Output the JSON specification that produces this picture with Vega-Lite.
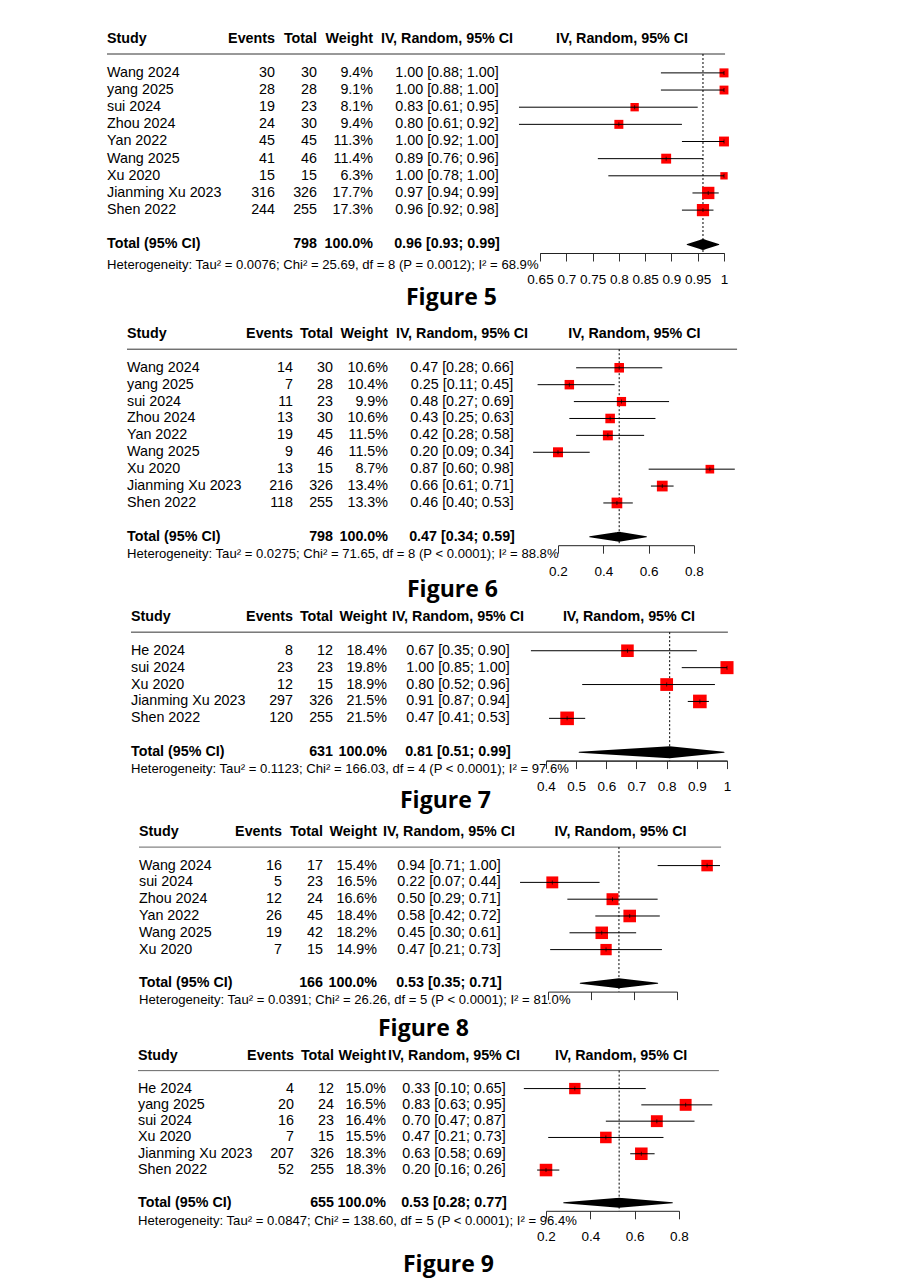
{
"$schema": "https://vega.github.io/schema/vega-lite/v6.json",
"background": "white",
"padding": {"left": 100, "top": 30, "right": 0, "bottom": 0},
"spacing": 0,
"datasets": {"t": [
{"fig":5,"row":0,"kind":"h","study":"Study","ev":"Events","tot":"Total","wt":"Weight","ci":"IV, Random, 95% CI"},
{"fig":5,"row":2,"kind":"s","study":"Wang 2024","ev":"30","tot":"30","wt":"9.4%","ci":"1.00 [0.88; 1.00]","est":1.0,"lo":0.88,"hi":1.0,"w":9.4},
{"fig":5,"row":3,"kind":"s","study":"yang 2025","ev":"28","tot":"28","wt":"9.1%","ci":"1.00 [0.88; 1.00]","est":1.0,"lo":0.88,"hi":1.0,"w":9.1},
{"fig":5,"row":4,"kind":"s","study":"sui 2024","ev":"19","tot":"23","wt":"8.1%","ci":"0.83 [0.61; 0.95]","est":0.83,"lo":0.61,"hi":0.95,"w":8.1},
{"fig":5,"row":5,"kind":"s","study":"Zhou 2024","ev":"24","tot":"30","wt":"9.4%","ci":"0.80 [0.61; 0.92]","est":0.8,"lo":0.61,"hi":0.92,"w":9.4},
{"fig":5,"row":6,"kind":"s","study":"Yan 2022","ev":"45","tot":"45","wt":"11.3%","ci":"1.00 [0.92; 1.00]","est":1.0,"lo":0.92,"hi":1.0,"w":11.3},
{"fig":5,"row":7,"kind":"s","study":"Wang 2025","ev":"41","tot":"46","wt":"11.4%","ci":"0.89 [0.76; 0.96]","est":0.89,"lo":0.76,"hi":0.96,"w":11.4},
{"fig":5,"row":8,"kind":"s","study":"Xu 2020","ev":"15","tot":"15","wt":"6.3%","ci":"1.00 [0.78; 1.00]","est":1.0,"lo":0.78,"hi":1.0,"w":6.3},
{"fig":5,"row":9,"kind":"s","study":"Jianming Xu 2023","ev":"316","tot":"326","wt":"17.7%","ci":"0.97 [0.94; 0.99]","est":0.97,"lo":0.94,"hi":0.99,"w":17.7},
{"fig":5,"row":10,"kind":"s","study":"Shen 2022","ev":"244","tot":"255","wt":"17.3%","ci":"0.96 [0.92; 0.98]","est":0.96,"lo":0.92,"hi":0.98,"w":17.3},
{"fig":5,"row":12,"kind":"t","study":"Total (95% CI)","ev":"","tot":"798","wt":"100.0%","ci":"0.96 [0.93; 0.99]","est":0.96,"lo":0.93,"hi":0.99},
{"fig":5,"row":13,"kind":"x","study":"Heterogeneity: Tau² = 0.0076; Chi² = 25.69, df = 8 (P = 0.0012); I² = 68.9%"},
{"fig":6,"row":0,"kind":"h","study":"Study","ev":"Events","tot":"Total","wt":"Weight","ci":"IV, Random, 95% CI"},
{"fig":6,"row":2,"kind":"s","study":"Wang 2024","ev":"14","tot":"30","wt":"10.6%","ci":"0.47 [0.28; 0.66]","est":0.47,"lo":0.28,"hi":0.66,"w":10.6},
{"fig":6,"row":3,"kind":"s","study":"yang 2025","ev":"7","tot":"28","wt":"10.4%","ci":"0.25 [0.11; 0.45]","est":0.25,"lo":0.11,"hi":0.45,"w":10.4},
{"fig":6,"row":4,"kind":"s","study":"sui 2024","ev":"11","tot":"23","wt":"9.9%","ci":"0.48 [0.27; 0.69]","est":0.48,"lo":0.27,"hi":0.69,"w":9.9},
{"fig":6,"row":5,"kind":"s","study":"Zhou 2024","ev":"13","tot":"30","wt":"10.6%","ci":"0.43 [0.25; 0.63]","est":0.43,"lo":0.25,"hi":0.63,"w":10.6},
{"fig":6,"row":6,"kind":"s","study":"Yan 2022","ev":"19","tot":"45","wt":"11.5%","ci":"0.42 [0.28; 0.58]","est":0.42,"lo":0.28,"hi":0.58,"w":11.5},
{"fig":6,"row":7,"kind":"s","study":"Wang 2025","ev":"9","tot":"46","wt":"11.5%","ci":"0.20 [0.09; 0.34]","est":0.2,"lo":0.09,"hi":0.34,"w":11.5},
{"fig":6,"row":8,"kind":"s","study":"Xu 2020","ev":"13","tot":"15","wt":"8.7%","ci":"0.87 [0.60; 0.98]","est":0.87,"lo":0.6,"hi":0.98,"w":8.7},
{"fig":6,"row":9,"kind":"s","study":"Jianming Xu 2023","ev":"216","tot":"326","wt":"13.4%","ci":"0.66 [0.61; 0.71]","est":0.66,"lo":0.61,"hi":0.71,"w":13.4},
{"fig":6,"row":10,"kind":"s","study":"Shen 2022","ev":"118","tot":"255","wt":"13.3%","ci":"0.46 [0.40; 0.53]","est":0.46,"lo":0.4,"hi":0.53,"w":13.3},
{"fig":6,"row":12,"kind":"t","study":"Total (95% CI)","ev":"","tot":"798","wt":"100.0%","ci":"0.47 [0.34; 0.59]","est":0.47,"lo":0.34,"hi":0.59},
{"fig":6,"row":13,"kind":"x","study":"Heterogeneity: Tau² = 0.0275; Chi² = 71.65, df = 8 (P < 0.0001); I² = 88.8%"},
{"fig":7,"row":0,"kind":"h","study":"Study","ev":"Events","tot":"Total","wt":"Weight","ci":"IV, Random, 95% CI"},
{"fig":7,"row":2,"kind":"s","study":"He 2024","ev":"8","tot":"12","wt":"18.4%","ci":"0.67 [0.35; 0.90]","est":0.67,"lo":0.35,"hi":0.9,"w":18.4},
{"fig":7,"row":3,"kind":"s","study":"sui 2024","ev":"23","tot":"23","wt":"19.8%","ci":"1.00 [0.85; 1.00]","est":1.0,"lo":0.85,"hi":1.0,"w":19.8},
{"fig":7,"row":4,"kind":"s","study":"Xu 2020","ev":"12","tot":"15","wt":"18.9%","ci":"0.80 [0.52; 0.96]","est":0.8,"lo":0.52,"hi":0.96,"w":18.9},
{"fig":7,"row":5,"kind":"s","study":"Jianming Xu 2023","ev":"297","tot":"326","wt":"21.5%","ci":"0.91 [0.87; 0.94]","est":0.91,"lo":0.87,"hi":0.94,"w":21.5},
{"fig":7,"row":6,"kind":"s","study":"Shen 2022","ev":"120","tot":"255","wt":"21.5%","ci":"0.47 [0.41; 0.53]","est":0.47,"lo":0.41,"hi":0.53,"w":21.5},
{"fig":7,"row":8,"kind":"t","study":"Total (95% CI)","ev":"","tot":"631","wt":"100.0%","ci":"0.81 [0.51; 0.99]","est":0.81,"lo":0.51,"hi":0.99},
{"fig":7,"row":9,"kind":"x","study":"Heterogeneity: Tau² = 0.1123; Chi² = 166.03, df = 4 (P < 0.0001); I² = 97.6%"},
{"fig":8,"row":0,"kind":"h","study":"Study","ev":"Events","tot":"Total","wt":"Weight","ci":"IV, Random, 95% CI"},
{"fig":8,"row":2,"kind":"s","study":"Wang 2024","ev":"16","tot":"17","wt":"15.4%","ci":"0.94 [0.71; 1.00]","est":0.94,"lo":0.71,"hi":1.0,"w":15.4},
{"fig":8,"row":3,"kind":"s","study":"sui 2024","ev":"5","tot":"23","wt":"16.5%","ci":"0.22 [0.07; 0.44]","est":0.22,"lo":0.07,"hi":0.44,"w":16.5},
{"fig":8,"row":4,"kind":"s","study":"Zhou 2024","ev":"12","tot":"24","wt":"16.6%","ci":"0.50 [0.29; 0.71]","est":0.5,"lo":0.29,"hi":0.71,"w":16.6},
{"fig":8,"row":5,"kind":"s","study":"Yan 2022","ev":"26","tot":"45","wt":"18.4%","ci":"0.58 [0.42; 0.72]","est":0.58,"lo":0.42,"hi":0.72,"w":18.4},
{"fig":8,"row":6,"kind":"s","study":"Wang 2025","ev":"19","tot":"42","wt":"18.2%","ci":"0.45 [0.30; 0.61]","est":0.45,"lo":0.3,"hi":0.61,"w":18.2},
{"fig":8,"row":7,"kind":"s","study":"Xu 2020","ev":"7","tot":"15","wt":"14.9%","ci":"0.47 [0.21; 0.73]","est":0.47,"lo":0.21,"hi":0.73,"w":14.9},
{"fig":8,"row":9,"kind":"t","study":"Total (95% CI)","ev":"","tot":"166","wt":"100.0%","ci":"0.53 [0.35; 0.71]","est":0.53,"lo":0.35,"hi":0.71},
{"fig":8,"row":10,"kind":"x","study":"Heterogeneity: Tau² = 0.0391; Chi² = 26.26, df = 5 (P < 0.0001); I² = 81.0%"},
{"fig":9,"row":0,"kind":"h","study":"Study","ev":"Events","tot":"Total","wt":"Weight","ci":"IV, Random, 95% CI"},
{"fig":9,"row":2,"kind":"s","study":"He 2024","ev":"4","tot":"12","wt":"15.0%","ci":"0.33 [0.10; 0.65]","est":0.33,"lo":0.1,"hi":0.65,"w":15.0},
{"fig":9,"row":3,"kind":"s","study":"yang 2025","ev":"20","tot":"24","wt":"16.5%","ci":"0.83 [0.63; 0.95]","est":0.83,"lo":0.63,"hi":0.95,"w":16.5},
{"fig":9,"row":4,"kind":"s","study":"sui 2024","ev":"16","tot":"23","wt":"16.4%","ci":"0.70 [0.47; 0.87]","est":0.7,"lo":0.47,"hi":0.87,"w":16.4},
{"fig":9,"row":5,"kind":"s","study":"Xu 2020","ev":"7","tot":"15","wt":"15.5%","ci":"0.47 [0.21; 0.73]","est":0.47,"lo":0.21,"hi":0.73,"w":15.5},
{"fig":9,"row":6,"kind":"s","study":"Jianming Xu 2023","ev":"207","tot":"326","wt":"18.3%","ci":"0.63 [0.58; 0.69]","est":0.63,"lo":0.58,"hi":0.69,"w":18.3},
{"fig":9,"row":7,"kind":"s","study":"Shen 2022","ev":"52","tot":"255","wt":"18.3%","ci":"0.20 [0.16; 0.26]","est":0.2,"lo":0.16,"hi":0.26,"w":18.3},
{"fig":9,"row":9,"kind":"t","study":"Total (95% CI)","ev":"","tot":"655","wt":"100.0%","ci":"0.53 [0.28; 0.77]","est":0.53,"lo":0.28,"hi":0.77},
{"fig":9,"row":10,"kind":"x","study":"Heterogeneity: Tau² = 0.0847; Chi² = 138.60, df = 5 (P < 0.0001); I² = 96.4%"}
]},
"vconcat": [
{"title": {"text":"Figure 5","orient":"bottom","anchor":"start","frame":"group","dx":306,"offset":1,"font":"Open Sans","fontSize":23,"fontWeight":"bold","color":"#000"},
 "spacing": 0, "bounds": "flush",
 "hconcat": [
 {"width":440,"height":240.1,"data":{"name":"t"},"transform":[{"filter":"datum.fig == 5"}],
  "encoding":{"y":{"field":"row","type":"quantitative","scale":{"domain":[-0.5,13.5],"nice":false,"zero":false,"reverse":true},"axis":null}},
  "layer":[
   {"transform":[{"filter":"datum.kind == 'h'"}],"mark":{"type":"rule","color":"#333"},"encoding":{"x":{"datum":7,"type":"quantitative","scale":{"domain":[0,440],"nice":false,"zero":false},"axis":null},"x2":{"datum":440},"y":{"datum":0.9}}},
   {"transform":[{"filter":"datum.kind == 's'"}],"mark":{"type":"text","align":"left"},"encoding":{"x":{"datum":7,"type":"quantitative","axis":null},"text":{"field":"study"}}},
   {"transform":[{"filter":"datum.kind == 'h' || datum.kind == 't'"}],"mark":{"type":"text","align":"left","fontWeight":"bold"},"encoding":{"x":{"datum":7,"type":"quantitative","axis":null},"text":{"field":"study"}}},
   {"transform":[{"filter":"datum.kind == 's'"}],"mark":{"type":"text","align":"right"},"encoding":{"x":{"datum":175,"type":"quantitative","axis":null},"text":{"field":"ev"}}},
   {"transform":[{"filter":"datum.kind == 'h' || datum.kind == 't'"}],"mark":{"type":"text","align":"right","fontWeight":"bold"},"encoding":{"x":{"datum":175,"type":"quantitative","axis":null},"text":{"field":"ev"}}},
   {"transform":[{"filter":"datum.kind == 's'"}],"mark":{"type":"text","align":"right"},"encoding":{"x":{"datum":217,"type":"quantitative","axis":null},"text":{"field":"tot"}}},
   {"transform":[{"filter":"datum.kind == 'h' || datum.kind == 't'"}],"mark":{"type":"text","align":"right","fontWeight":"bold"},"encoding":{"x":{"datum":217,"type":"quantitative","axis":null},"text":{"field":"tot"}}},
   {"transform":[{"filter":"datum.kind == 's'"}],"mark":{"type":"text","align":"right"},"encoding":{"x":{"datum":273,"type":"quantitative","axis":null},"text":{"field":"wt"}}},
   {"transform":[{"filter":"datum.kind == 'h' || datum.kind == 't'"}],"mark":{"type":"text","align":"right","fontWeight":"bold"},"encoding":{"x":{"datum":273,"type":"quantitative","axis":null},"text":{"field":"wt"}}},
   {"transform":[{"filter":"datum.kind == 's'"}],"mark":{"type":"text","align":"center"},"encoding":{"x":{"datum":347,"type":"quantitative","axis":null},"text":{"field":"ci"}}},
   {"transform":[{"filter":"datum.kind == 'h' || datum.kind == 't'"}],"mark":{"type":"text","align":"center","fontWeight":"bold"},"encoding":{"x":{"datum":347,"type":"quantitative","axis":null},"text":{"field":"ci"}}},
   {"transform":[{"filter":"datum.kind == 'x'"}],"mark":{"type":"text","align":"left","fontSize":13.1,"dy":3},"encoding":{"x":{"datum":7,"type":"quantitative","axis":null},"text":{"field":"study"}}}
  ]},
 {"width":184,"height":223,"data":{"name":"t"},"transform":[{"filter":"datum.fig == 5"}],
  "resolve":{"axis":{"x":"independent"}},
  "encoding":{"y":{"field":"row","type":"quantitative","scale":{"domain":[-0.5,12.5],"nice":false,"zero":false,"reverse":true},"axis":null}},
  "layer":[
   {"transform":[{"filter":"datum.kind == 'h'"}],"mark":{"type":"rule","color":"#333"},"encoding":{"x":{"datum":0.65,"type":"quantitative","axis":null},"x2":{"datum":1.002},"y":{"datum":0.9}}},
   {"transform":[{"filter":"datum.kind == 'h'"}],"mark":{"type":"text","fontWeight":"bold"},"encoding":{"x":{"datum":0.806,"type":"quantitative","axis":null},"text":{"field":"ci"}}},
   {"transform":[{"filter":"datum.kind == 't'"}],"mark":{"type":"rule","strokeDash":[2,2],"color":"#000"},"encoding":{"x":{"field":"est","type":"quantitative","axis":null},"y":{"datum":0.9},"y2":{"datum":12.5}}},
   {"transform":[{"filter":"datum.kind == 's'"}],"mark":{"type":"point","shape":"square","filled":true,"color":"#ff0000","opacity":1},"encoding":{"x":{"field":"est","type":"quantitative","title":null,"scale":{"domain":[0.65,1],"nice":false,"zero":false},"axis":{"orient":"bottom","values":[0.65,0.75,0.85,0.95],"format":".2~f","labelOverlap":false,"labelFlush":false}},"size":{"field":"w","type":"quantitative","scale":{"zero":true,"nice":false,"range":[0,185]},"legend":null}}},
   {"transform":[{"filter":"datum.kind == 's'"}],"mark":{"type":"rule","color":"#000"},"encoding":{"x":{"field":"lo","type":"quantitative","title":null,"axis":{"orient":"bottom","values":[0.7,0.8,0.9,1],"format":".2~f","labelOverlap":false,"labelFlush":false}},"x2":{"field":"hi"}}},
   {"transform":[{"filter":"datum.kind == 's'"}],"mark":{"type":"tick","orient":"vertical","color":"#000","size":4,"thickness":1},"encoding":{"x":{"field":"est","type":"quantitative","axis":null}}},
   {"transform":[{"filter":"datum.kind == 't'"},{"fold":["lo","est","hi"]}],"mark":{"type":"trail","color":"#000"},"encoding":{"x":{"field":"value","type":"quantitative","axis":null},"size":{"condition":{"test":"datum.key == 'est'","value":11},"value":0}}}
  ]}
 ]},
{"title": {"text":"Figure 6","orient":"bottom","anchor":"start","frame":"group","dx":307,"offset":1,"font":"Open Sans","fontSize":23,"fontWeight":"bold","color":"#000"},
 "spacing": 0, "bounds": "flush",
 "hconcat": [
 {"width":458,"height":252.1,"data":{"name":"t"},"transform":[{"filter":"datum.fig == 6"}],
  "encoding":{"y":{"field":"row","type":"quantitative","scale":{"domain":[-1.42,13.5],"nice":false,"zero":false,"reverse":true},"axis":null}},
  "layer":[
   {"transform":[{"filter":"datum.kind == 'h'"}],"mark":{"type":"rule","color":"#333"},"encoding":{"x":{"datum":27,"type":"quantitative","scale":{"domain":[0,458],"nice":false,"zero":false},"axis":null},"x2":{"datum":458},"y":{"datum":0.9}}},
   {"transform":[{"filter":"datum.kind == 's'"}],"mark":{"type":"text","align":"left"},"encoding":{"x":{"datum":27,"type":"quantitative","axis":null},"text":{"field":"study"}}},
   {"transform":[{"filter":"datum.kind == 'h' || datum.kind == 't'"}],"mark":{"type":"text","align":"left","fontWeight":"bold"},"encoding":{"x":{"datum":27,"type":"quantitative","axis":null},"text":{"field":"study"}}},
   {"transform":[{"filter":"datum.kind == 's'"}],"mark":{"type":"text","align":"right"},"encoding":{"x":{"datum":193,"type":"quantitative","axis":null},"text":{"field":"ev"}}},
   {"transform":[{"filter":"datum.kind == 'h' || datum.kind == 't'"}],"mark":{"type":"text","align":"right","fontWeight":"bold"},"encoding":{"x":{"datum":193,"type":"quantitative","axis":null},"text":{"field":"ev"}}},
   {"transform":[{"filter":"datum.kind == 's'"}],"mark":{"type":"text","align":"right"},"encoding":{"x":{"datum":233,"type":"quantitative","axis":null},"text":{"field":"tot"}}},
   {"transform":[{"filter":"datum.kind == 'h' || datum.kind == 't'"}],"mark":{"type":"text","align":"right","fontWeight":"bold"},"encoding":{"x":{"datum":233,"type":"quantitative","axis":null},"text":{"field":"tot"}}},
   {"transform":[{"filter":"datum.kind == 's'"}],"mark":{"type":"text","align":"right"},"encoding":{"x":{"datum":288,"type":"quantitative","axis":null},"text":{"field":"wt"}}},
   {"transform":[{"filter":"datum.kind == 'h' || datum.kind == 't'"}],"mark":{"type":"text","align":"right","fontWeight":"bold"},"encoding":{"x":{"datum":288,"type":"quantitative","axis":null},"text":{"field":"wt"}}},
   {"transform":[{"filter":"datum.kind == 's'"}],"mark":{"type":"text","align":"center"},"encoding":{"x":{"datum":362,"type":"quantitative","axis":null},"text":{"field":"ci"}}},
   {"transform":[{"filter":"datum.kind == 'h' || datum.kind == 't'"}],"mark":{"type":"text","align":"center","fontWeight":"bold"},"encoding":{"x":{"datum":362,"type":"quantitative","axis":null},"text":{"field":"ci"}}},
   {"transform":[{"filter":"datum.kind == 'x'"}],"mark":{"type":"text","align":"left","fontSize":13.1},"encoding":{"x":{"datum":27,"type":"quantitative","axis":null},"text":{"field":"study"}}}
  ]},
 {"width":136,"height":235.2,"data":{"name":"t"},"transform":[{"filter":"datum.fig == 6"}],
  "encoding":{"y":{"field":"row","type":"quantitative","scale":{"domain":[-1.42,12.5],"nice":false,"zero":false,"reverse":true},"axis":null}},
  "layer":[
   {"transform":[{"filter":"datum.kind == 'h'"}],"mark":{"type":"rule","color":"#333"},"encoding":{"x":{"datum":0.2,"type":"quantitative","title":null},"x2":{"datum":0.99},"y":{"datum":0.9}}},
   {"transform":[{"filter":"datum.kind == 'h'"}],"mark":{"type":"text","fontWeight":"bold"},"encoding":{"x":{"datum":0.537,"type":"quantitative","title":null},"text":{"field":"ci"}}},
   {"transform":[{"filter":"datum.kind == 't'"}],"mark":{"type":"rule","strokeDash":[2,2],"color":"#000"},"encoding":{"x":{"field":"est","type":"quantitative","title":null},"y":{"datum":0.9},"y2":{"datum":12.5}}},
   {"transform":[{"filter":"datum.kind == 's'"}],"mark":{"type":"point","shape":"square","filled":true,"color":"#ff0000","opacity":1},"encoding":{"x":{"field":"est","type":"quantitative","title":null,"scale":{"domain":[0.2,0.8],"nice":false,"zero":false},"axis":{"values":[0.2,0.4,0.6,0.8],"format":".1~f","labelOverlap":false,"labelFlush":false}},"size":{"field":"w","type":"quantitative","scale":{"zero":true,"nice":false,"range":[0,190]},"legend":null}}},
   {"transform":[{"filter":"datum.kind == 's'"}],"mark":{"type":"rule","color":"#000"},"encoding":{"x":{"field":"lo","type":"quantitative","title":null},"x2":{"field":"hi"}}},
   {"transform":[{"filter":"datum.kind == 's'"}],"mark":{"type":"tick","orient":"vertical","color":"#000","size":4,"thickness":1},"encoding":{"x":{"field":"est","type":"quantitative","title":null}}},
   {"transform":[{"filter":"datum.kind == 't'"},{"fold":["lo","est","hi"]}],"mark":{"type":"trail","color":"#000"},"encoding":{"x":{"field":"value","type":"quantitative","title":null},"size":{"condition":{"test":"datum.key == 'est'","value":10},"value":0}}}
  ]}
 ]},
{"title": {"text":"Figure 7","orient":"bottom","anchor":"start","frame":"group","dx":300,"offset":-3,"font":"Open Sans","fontSize":23,"fontWeight":"bold","color":"#000"},
 "spacing": 0, "bounds": "flush",
 "hconcat": [
 {"width":446,"height":175.5,"data":{"name":"t"},"transform":[{"filter":"datum.fig == 7"}],
  "encoding":{"y":{"field":"row","type":"quantitative","scale":{"domain":[-0.884,9.5],"nice":false,"zero":false,"reverse":true},"axis":null}},
  "layer":[
   {"transform":[{"filter":"datum.kind == 'h'"}],"mark":{"type":"rule","color":"#333"},"encoding":{"x":{"datum":31,"type":"quantitative","scale":{"domain":[0,446],"nice":false,"zero":false},"axis":null},"x2":{"datum":446},"y":{"datum":0.9}}},
   {"transform":[{"filter":"datum.kind == 's'"}],"mark":{"type":"text","align":"left"},"encoding":{"x":{"datum":31,"type":"quantitative","axis":null},"text":{"field":"study"}}},
   {"transform":[{"filter":"datum.kind == 'h' || datum.kind == 't'"}],"mark":{"type":"text","align":"left","fontWeight":"bold"},"encoding":{"x":{"datum":31,"type":"quantitative","axis":null},"text":{"field":"study"}}},
   {"transform":[{"filter":"datum.kind == 's'"}],"mark":{"type":"text","align":"right"},"encoding":{"x":{"datum":193,"type":"quantitative","axis":null},"text":{"field":"ev"}}},
   {"transform":[{"filter":"datum.kind == 'h' || datum.kind == 't'"}],"mark":{"type":"text","align":"right","fontWeight":"bold"},"encoding":{"x":{"datum":193,"type":"quantitative","axis":null},"text":{"field":"ev"}}},
   {"transform":[{"filter":"datum.kind == 's'"}],"mark":{"type":"text","align":"right"},"encoding":{"x":{"datum":233,"type":"quantitative","axis":null},"text":{"field":"tot"}}},
   {"transform":[{"filter":"datum.kind == 'h' || datum.kind == 't'"}],"mark":{"type":"text","align":"right","fontWeight":"bold"},"encoding":{"x":{"datum":233,"type":"quantitative","axis":null},"text":{"field":"tot"}}},
   {"transform":[{"filter":"datum.kind == 's'"}],"mark":{"type":"text","align":"right"},"encoding":{"x":{"datum":287,"type":"quantitative","axis":null},"text":{"field":"wt"}}},
   {"transform":[{"filter":"datum.kind == 'h' || datum.kind == 't'"}],"mark":{"type":"text","align":"right","fontWeight":"bold"},"encoding":{"x":{"datum":287,"type":"quantitative","axis":null},"text":{"field":"wt"}}},
   {"transform":[{"filter":"datum.kind == 's'"}],"mark":{"type":"text","align":"center"},"encoding":{"x":{"datum":358,"type":"quantitative","axis":null},"text":{"field":"ci"}}},
   {"transform":[{"filter":"datum.kind == 'h' || datum.kind == 't'"}],"mark":{"type":"text","align":"center","fontWeight":"bold"},"encoding":{"x":{"datum":358,"type":"quantitative","axis":null},"text":{"field":"ci"}}},
   {"transform":[{"filter":"datum.kind == 'x'"}],"mark":{"type":"text","align":"left","fontSize":13.1},"encoding":{"x":{"datum":31,"type":"quantitative","axis":null},"text":{"field":"study"}}}
  ]},
 {"width":181,"height":158.6,"data":{"name":"t"},"transform":[{"filter":"datum.fig == 7"}],
  "resolve":{"axis":{"x":"independent"}},
  "encoding":{"y":{"field":"row","type":"quantitative","scale":{"domain":[-0.884,8.5],"nice":false,"zero":false,"reverse":true},"axis":null}},
  "layer":[
   {"transform":[{"filter":"datum.kind == 'h'"}],"mark":{"type":"rule","color":"#333"},"encoding":{"x":{"datum":0.4,"type":"quantitative","axis":null},"x2":{"datum":1.003},"y":{"datum":0.9}}},
   {"transform":[{"filter":"datum.kind == 'h'"}],"mark":{"type":"text","fontWeight":"bold"},"encoding":{"x":{"datum":0.675,"type":"quantitative","axis":null},"text":{"field":"ci"}}},
   {"transform":[{"filter":"datum.kind == 't'"}],"mark":{"type":"rule","strokeDash":[2,2],"color":"#000"},"encoding":{"x":{"field":"est","type":"quantitative","axis":null},"y":{"datum":0.9},"y2":{"datum":8.5}}},
   {"transform":[{"filter":"datum.kind == 's'"}],"mark":{"type":"point","shape":"square","filled":true,"color":"#ff0000","opacity":1},"encoding":{"x":{"field":"est","type":"quantitative","title":null,"scale":{"domain":[0.4,1],"nice":false,"zero":false},"axis":{"orient":"bottom","values":[0.4,0.6,0.8,1],"format":".1~f","labelOverlap":false,"labelFlush":false}},"size":{"field":"w","type":"quantitative","scale":{"zero":true,"nice":false,"range":[0,185]},"legend":null}}},
   {"transform":[{"filter":"datum.kind == 's'"}],"mark":{"type":"rule","color":"#000"},"encoding":{"x":{"field":"lo","type":"quantitative","title":null,"axis":{"orient":"bottom","values":[0.5,0.7,0.9],"format":".1~f","labelOverlap":false,"labelFlush":false}},"x2":{"field":"hi"}}},
   {"transform":[{"filter":"datum.kind == 's'"}],"mark":{"type":"tick","orient":"vertical","color":"#000","size":4,"thickness":1},"encoding":{"x":{"field":"est","type":"quantitative","axis":null}}},
   {"transform":[{"filter":"datum.kind == 't'"},{"fold":["lo","est","hi"]}],"mark":{"type":"trail","color":"#000"},"encoding":{"x":{"field":"value","type":"quantitative","axis":null},"size":{"condition":{"test":"datum.key == 'est'","value":12},"value":0}}}
  ]}
 ]},
{"title": {"text":"Figure 8","orient":"bottom","anchor":"start","frame":"group","dx":278,"offset":10,"font":"Open Sans","fontSize":23,"fontWeight":"bold","color":"#000"},
 "spacing": 0, "bounds": "flush",
 "hconcat": [
 {"width":448,"height":194.4,"data":{"name":"t"},"transform":[{"filter":"datum.fig == 8"}],
  "encoding":{"y":{"field":"row","type":"quantitative","scale":{"domain":[-1.07,10.5],"nice":false,"zero":false,"reverse":true},"axis":null}},
  "layer":[
   {"transform":[{"filter":"datum.kind == 'h'"}],"mark":{"type":"rule","color":"#666"},"encoding":{"x":{"datum":39,"type":"quantitative","scale":{"domain":[0,448],"nice":false,"zero":false},"axis":null},"x2":{"datum":448},"y":{"datum":0.9}}},
   {"transform":[{"filter":"datum.kind == 's'"}],"mark":{"type":"text","align":"left"},"encoding":{"x":{"datum":39,"type":"quantitative","axis":null},"text":{"field":"study"}}},
   {"transform":[{"filter":"datum.kind == 'h' || datum.kind == 't'"}],"mark":{"type":"text","align":"left","fontWeight":"bold"},"encoding":{"x":{"datum":39,"type":"quantitative","axis":null},"text":{"field":"study"}}},
   {"transform":[{"filter":"datum.kind == 's'"}],"mark":{"type":"text","align":"right"},"encoding":{"x":{"datum":182,"type":"quantitative","axis":null},"text":{"field":"ev"}}},
   {"transform":[{"filter":"datum.kind == 'h' || datum.kind == 't'"}],"mark":{"type":"text","align":"right","fontWeight":"bold"},"encoding":{"x":{"datum":182,"type":"quantitative","axis":null},"text":{"field":"ev"}}},
   {"transform":[{"filter":"datum.kind == 's'"}],"mark":{"type":"text","align":"right"},"encoding":{"x":{"datum":223,"type":"quantitative","axis":null},"text":{"field":"tot"}}},
   {"transform":[{"filter":"datum.kind == 'h' || datum.kind == 't'"}],"mark":{"type":"text","align":"right","fontWeight":"bold"},"encoding":{"x":{"datum":223,"type":"quantitative","axis":null},"text":{"field":"tot"}}},
   {"transform":[{"filter":"datum.kind == 's'"}],"mark":{"type":"text","align":"right"},"encoding":{"x":{"datum":277,"type":"quantitative","axis":null},"text":{"field":"wt"}}},
   {"transform":[{"filter":"datum.kind == 'h' || datum.kind == 't'"}],"mark":{"type":"text","align":"right","fontWeight":"bold"},"encoding":{"x":{"datum":277,"type":"quantitative","axis":null},"text":{"field":"wt"}}},
   {"transform":[{"filter":"datum.kind == 's'"}],"mark":{"type":"text","align":"center"},"encoding":{"x":{"datum":349,"type":"quantitative","axis":null},"text":{"field":"ci"}}},
   {"transform":[{"filter":"datum.kind == 'h' || datum.kind == 't'"}],"mark":{"type":"text","align":"center","fontWeight":"bold"},"encoding":{"x":{"datum":349,"type":"quantitative","axis":null},"text":{"field":"ci"}}},
   {"transform":[{"filter":"datum.kind == 'x'"}],"mark":{"type":"text","align":"left","fontSize":13.1},"encoding":{"x":{"datum":39,"type":"quantitative","axis":null},"text":{"field":"study"}}}
  ]},
 {"width":129,"height":177.6,"data":{"name":"t"},"transform":[{"filter":"datum.fig == 8"}],
  "encoding":{"y":{"field":"row","type":"quantitative","scale":{"domain":[-1.07,9.5],"nice":false,"zero":false,"reverse":true},"axis":null}},
  "layer":[
   {"transform":[{"filter":"datum.kind == 'h'"}],"mark":{"type":"rule","color":"#666"},"encoding":{"x":{"datum":0.2,"type":"quantitative","title":null},"x2":{"datum":1.005},"y":{"datum":0.9}}},
   {"transform":[{"filter":"datum.kind == 'h'"}],"mark":{"type":"text","fontWeight":"bold"},"encoding":{"x":{"datum":0.537,"type":"quantitative","title":null},"text":{"field":"ci"}}},
   {"transform":[{"filter":"datum.kind == 't'"}],"mark":{"type":"rule","strokeDash":[2,2],"color":"#000"},"encoding":{"x":{"field":"est","type":"quantitative","title":null},"y":{"datum":0.9},"y2":{"datum":9.5}}},
   {"transform":[{"filter":"datum.kind == 's'"}],"mark":{"type":"point","shape":"square","filled":true,"color":"#ff0000","opacity":1},"encoding":{"x":{"field":"est","type":"quantitative","title":null,"scale":{"domain":[0.2,0.8],"nice":false,"zero":false},"axis":{"values":[0.2,0.4,0.6,0.8],"labels":false}},"size":{"field":"w","type":"quantitative","scale":{"zero":true,"nice":false,"range":[0,180]},"legend":null}}},
   {"transform":[{"filter":"datum.kind == 's'"}],"mark":{"type":"rule","color":"#000"},"encoding":{"x":{"field":"lo","type":"quantitative","title":null},"x2":{"field":"hi"}}},
   {"transform":[{"filter":"datum.kind == 's'"}],"mark":{"type":"tick","orient":"vertical","color":"#000","size":4,"thickness":1},"encoding":{"x":{"field":"est","type":"quantitative","title":null}}},
   {"transform":[{"filter":"datum.kind == 't'"},{"fold":["lo","est","hi"]}],"mark":{"type":"trail","color":"#000"},"encoding":{"x":{"field":"value","type":"quantitative","title":null},"size":{"condition":{"test":"datum.key == 'est'","value":10},"value":0}}}
  ]}
 ]},
{"title": {"text":"Figure 9","orient":"bottom","anchor":"start","frame":"group","dx":303,"offset":11,"font":"Open Sans","fontSize":23,"fontWeight":"bold","color":"#000"},
 "spacing": 0, "bounds": "flush",
 "hconcat": [
 {"width":446,"height":185.1,"data":{"name":"t"},"transform":[{"filter":"datum.fig == 9"}],
  "encoding":{"y":{"field":"row","type":"quantitative","scale":{"domain":[-0.857,10.5],"nice":false,"zero":false,"reverse":true},"axis":null}},
  "layer":[
   {"transform":[{"filter":"datum.kind == 'h'"}],"mark":{"type":"rule","color":"#666"},"encoding":{"x":{"datum":38,"type":"quantitative","scale":{"domain":[0,446],"nice":false,"zero":false},"axis":null},"x2":{"datum":446},"y":{"datum":0.9}}},
   {"transform":[{"filter":"datum.kind == 's'"}],"mark":{"type":"text","align":"left"},"encoding":{"x":{"datum":38,"type":"quantitative","axis":null},"text":{"field":"study"}}},
   {"transform":[{"filter":"datum.kind == 'h' || datum.kind == 't'"}],"mark":{"type":"text","align":"left","fontWeight":"bold"},"encoding":{"x":{"datum":38,"type":"quantitative","axis":null},"text":{"field":"study"}}},
   {"transform":[{"filter":"datum.kind == 's'"}],"mark":{"type":"text","align":"right"},"encoding":{"x":{"datum":194,"type":"quantitative","axis":null},"text":{"field":"ev"}}},
   {"transform":[{"filter":"datum.kind == 'h' || datum.kind == 't'"}],"mark":{"type":"text","align":"right","fontWeight":"bold"},"encoding":{"x":{"datum":194,"type":"quantitative","axis":null},"text":{"field":"ev"}}},
   {"transform":[{"filter":"datum.kind == 's'"}],"mark":{"type":"text","align":"right"},"encoding":{"x":{"datum":234,"type":"quantitative","axis":null},"text":{"field":"tot"}}},
   {"transform":[{"filter":"datum.kind == 'h' || datum.kind == 't'"}],"mark":{"type":"text","align":"right","fontWeight":"bold"},"encoding":{"x":{"datum":234,"type":"quantitative","axis":null},"text":{"field":"tot"}}},
   {"transform":[{"filter":"datum.kind == 's'"}],"mark":{"type":"text","align":"right"},"encoding":{"x":{"datum":286,"type":"quantitative","axis":null},"text":{"field":"wt"}}},
   {"transform":[{"filter":"datum.kind == 'h' || datum.kind == 't'"}],"mark":{"type":"text","align":"right","fontWeight":"bold"},"encoding":{"x":{"datum":286,"type":"quantitative","axis":null},"text":{"field":"wt"}}},
   {"transform":[{"filter":"datum.kind == 's'"}],"mark":{"type":"text","align":"center"},"encoding":{"x":{"datum":354,"type":"quantitative","axis":null},"text":{"field":"ci"}}},
   {"transform":[{"filter":"datum.kind == 'h' || datum.kind == 't'"}],"mark":{"type":"text","align":"center","fontWeight":"bold"},"encoding":{"x":{"datum":354,"type":"quantitative","axis":null},"text":{"field":"ci"}}},
   {"transform":[{"filter":"datum.kind == 'x'"}],"mark":{"type":"text","align":"left","fontSize":13.1,"dy":2},"encoding":{"x":{"datum":38,"type":"quantitative","axis":null},"text":{"field":"study"}}}
  ]},
 {"width":133,"height":168.8,"data":{"name":"t"},"transform":[{"filter":"datum.fig == 9"}],
  "encoding":{"y":{"field":"row","type":"quantitative","scale":{"domain":[-0.857,9.5],"nice":false,"zero":false,"reverse":true},"axis":null}},
  "layer":[
   {"transform":[{"filter":"datum.kind == 'h'"}],"mark":{"type":"rule","color":"#666"},"encoding":{"x":{"datum":0.2,"type":"quantitative","title":null},"x2":{"datum":0.98},"y":{"datum":0.9}}},
   {"transform":[{"filter":"datum.kind == 'h'"}],"mark":{"type":"text","fontWeight":"bold"},"encoding":{"x":{"datum":0.539,"type":"quantitative","title":null},"text":{"field":"ci"}}},
   {"transform":[{"filter":"datum.kind == 't'"}],"mark":{"type":"rule","strokeDash":[2,2],"color":"#000"},"encoding":{"x":{"field":"est","type":"quantitative","title":null},"y":{"datum":0.9},"y2":{"datum":9.5}}},
   {"transform":[{"filter":"datum.kind == 's'"}],"mark":{"type":"point","shape":"square","filled":true,"color":"#ff0000","opacity":1},"encoding":{"x":{"field":"est","type":"quantitative","title":null,"scale":{"domain":[0.2,0.8],"nice":false,"zero":false},"axis":{"values":[0.2,0.4,0.6,0.8],"format":".1~f","labelOverlap":false,"labelFlush":false}},"size":{"field":"w","type":"quantitative","scale":{"zero":true,"nice":false,"range":[0,175]},"legend":null}}},
   {"transform":[{"filter":"datum.kind == 's'"}],"mark":{"type":"rule","color":"#000"},"encoding":{"x":{"field":"lo","type":"quantitative","title":null},"x2":{"field":"hi"}}},
   {"transform":[{"filter":"datum.kind == 's'"}],"mark":{"type":"tick","orient":"vertical","color":"#000","size":4,"thickness":1},"encoding":{"x":{"field":"est","type":"quantitative","title":null}}},
   {"transform":[{"filter":"datum.kind == 't'"},{"fold":["lo","est","hi"]}],"mark":{"type":"trail","color":"#000"},"encoding":{"x":{"field":"value","type":"quantitative","title":null},"size":{"condition":{"test":"datum.key == 'est'","value":10},"value":0}}}
  ]}
 ]}
],
"config": {
 "view": {"stroke": null},
 "text": {"font": "Liberation Sans", "fontSize": 14.3, "baseline": "middle", "color": "#000"},
 "axis": {"labelFont": "Liberation Sans", "labelFontSize": 13.5, "labelColor": "#000", "tickColor": "#333", "domainColor": "#222", "tickSize": 8, "labelPadding": 11, "grid": false, "labelBound": false}
}
}
